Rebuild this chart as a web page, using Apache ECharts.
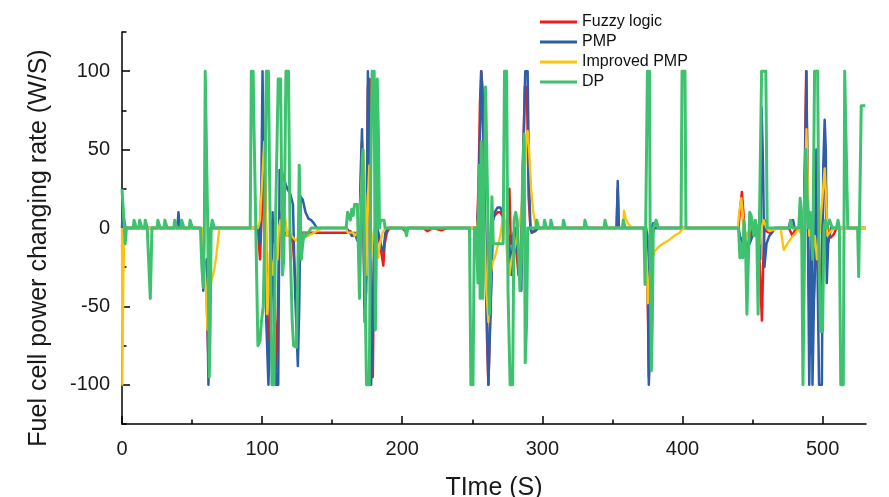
<!DOCTYPE html>
<html><head><meta charset="utf-8">
<script src="https://cdn.jsdelivr.net/npm/echarts@6/dist/echarts.min.js"></script>
<style>html,body{margin:0;padding:0;background:#fff}#c{width:889px;height:497px}</style>
</head><body><div id="c"></div>
<script>
const seriesNames = ['Fuzzy logic', 'PMP', 'Improved PMP', 'DP'];
const xMajorTicks = [0, 100, 200, 300, 400, 500];
const xMinorTicks = [50, 150, 250, 350, 450];
const yMajorTicks = [-100, -50, 0, 50, 100];
const yMinorTicks = [-125, -75, -25, 25, 75, 125];

const fuzzyPts = [[0,-12],[1,-3],[2,0],[56,0],[57,-5],[58.5,-35],[60,-30],[61.5,-80],[62.5,-40],[63.5,0],[66,0],
[97,0],[98.5,-20],[100,15],[101.5,52],[102.5,20],[103.5,-50],[104.5,-80],[105.5,-60],[106.5,-20],[107.5,5],[108.5,-40],[110,-90],[111.3,-50],[112.5,10],[114,5],[116,-3],[118,-5],[120,-4],[122,-10],[123.5,-30],[125,-60],[126.5,-10],[128,-3],[160,-3],[163,-2],[165,-5],[168,-3],[169.5,0],[170.5,30],[171.3,55],[172.2,10],[173.2,-50],[174.3,-30],[175.5,90],[176.8,95],[177.8,-90],[179,-95],[180,-10],[181,0],[183,-5],[185,-15],[186.5,-24],[187.5,-10],[189,-3],[191,0],[200,0],[202,-2],[205,0],[215,0],[218,-2],[222,0],[228,-1.5],[232,0],
[252,0],[253.5,0],[254.5,30],[255.5,80],[256.3,100],[257.3,90],[258.5,30],[259.5,-20],[260.5,-70],[261.5,-100],[262.6,-100],[263.6,-30],[264.6,5],[266,8],[268,10],[270,10],[271.5,8],[272.5,3],[274,0],[275.5,10],[276.5,25],[277.5,-10],[279,-5],[281,-10],[283,-30],[284.5,-20],[286,30],[287.5,90],[289,90],[290.2,20],[291.5,0],[292.5,-3],[295,-1],[297,0],
[353,0],[353.8,25],[354.6,0],[372,0],[374,-5],[375,-30],[376,-95],[377,-60],[378,-5],[380,0],
[440,0],[441,10],[442.4,23],[443.5,10],[444.5,-10],[445.5,-19],[447,-10],[448.5,-5],[450,0],[453,-3],[455,-20],[456.7,-59],[457.7,-20],[458.7,5],[460,-2],[462,-3],[466,0],[476,0],[477,-2],[478.5,-5],[480,-2],[482,0],[485,-3],[486.5,-5],[487.5,50],[488.3,100],[489.5,100],[490.3,-40],[491.5,-80],[493,-60],[494.5,-30],[496,-10],[497.5,-40],[499,-30],[500.5,20],[501.8,47],[502.8,10],[504,-5],[506,-6],[508,-4],[510,0],[531,0]];

const pmpPts = [[0,0],[0.5,12],[1.5,5],[2.5,0],[39.5,0],[40.3,10],[41,2],[41.6,0],[56,0],[57,-5],[58,-40],[59,-30],[60.5,-20],[61.7,-100],[62.5,-60],[63.3,0],
[97,0],[98.5,-10],[99.5,30],[100.3,100],[101.2,100],[102.2,-30],[103,-60],[104.5,-100],[105.5,-100],[106.5,-40],[107.5,10],[108.5,-60],[110,-100],[111.5,-100],[112.5,37],[114,36],[116,30],[118,25],[120,22],[122,15],[123.5,-40],[125.5,-88],[126.5,-50],[127.5,20],[129,18],[131,10],[133,6],[135,5],[137,3],[139,0],
[160,0],[162,-2],[164,-5],[166,-3],[168,-8],[169.5,-3],[170.5,40],[171.3,63],[172.2,10],[173.2,-60],[174.3,-40],[175.5,100],[176.8,100],[177.8,-100],[179,-100],[180,-10],[181,-5],[182,0],[183,-3],[185,-12],[186.5,-15],[188,-3],[190,0],
[252,0],[253.5,0],[254.5,20],[255.5,60],[256.5,100],[257.5,100],[258.5,40],[259.5,-20],[260.5,-60],[261.5,-100],[262.8,-100],[263.8,-30],[264.8,5],[266,10],[268,13],[270,13],[271.5,10],[272.5,5],[274,0],[276,-5],[278,-30],[279,-5],[280.5,0],[283,-20],[285,-40],[286.5,50],[287.8,100],[289.5,100],[290.5,30],[291.5,0],[292.5,-3],[295,-2],[297,0],
[353,0],[353.8,30],[354.6,0],[374,0],[375,-5],[376,-100],[377,-70],[378,0],[379,3],[380,0],
[440,0],[441,-5],[443,-10],[444,0],[446,-12],[448,-10],[450,-5],[452,0],[454,-3],[455.5,-20],[456.5,77],[457.5,40],[458.5,-25],[460,-10],[462,-5],[464,-3],[466,0],[476,0],[477,5],[479,5],[480,0],[483,0],[485,5],[486.5,-5],[487.5,40],[488.5,100],[489.8,100],[490.5,-100],[491.5,-100],[492.2,0],[492.8,-100],[494,-100],[494.8,0],[495.5,50],[496.3,-20],[497.5,-100],[499.5,-100],[500.5,40],[501.5,69],[502.3,50],[503,-35],[504,-10],[505,-5],[506,0],[531,0]];

const improvedPts = [[0,0],[0.2,-100],[1,-30],[1.8,0],[57,0],[58.5,-20],[60,-40],[61,-65],[62,-55],[63.5,-35],[65.5,-28],[67,-20],[68.5,-8],[69.5,0],
[97,0],[98.5,5],[100,30],[101.5,55],[102.5,20],[103.5,-55],[104.5,-40],[105.5,-15],[106.5,-15],[108,-30],[109,-10],[110,-15],[111,-20],[112,0],[113,5],[114,-5],[115,5],[116,10],[117,3],[118,-5],[119,-2],[121,-5],[124,-8],[127,-5],[130,-6],[133,-5],[137,-3],[141,-1],[144,0],
[160,0],[161,-3],[165,-3],[166,-5],[168,-3],[169.5,3],[171,30],[172.3,50],[173.5,20],[174.5,-30],[175.5,20],[176.5,40],[177.5,-20],[178.5,-10],[180,0],[181.5,-15],[182.8,-19],[184,-10],[186,-3],[188,0],
[252,0],[253.5,0],[254.5,10],[256,40],[257.5,35],[259,-10],[260,-40],[261.5,-60],[263,-30],[264.5,-22],[266,-19],[268,-12],[270,-5],[271.5,5],[272.5,10],[273.5,0],[275,-20],[276.5,-30],[278,-20],[279.5,-15],[281,-10],[283,0],[285,10],[287,30],[288.5,55],[289.5,62],[290.5,50],[292,25],[293.5,10],[295,3],[297,0],
[357.5,0],[358.3,11],[359.5,6],[361,3],[363,1],[365,0],
[373,0],[374.5,-20],[375.3,-48],[376,-40],[377,-25],[378.5,-20],[380,-15],[383,-12],[386,-10],[390,-8],[394,-5],[398,-3],[400.5,0],
[439.5,0],[440.5,10],[442,19],[443,10],[444,-5],[445,-12],[446,-3],[447,-5],[448,0],[450,5],[452,-3],[454,2],[455.5,-10],[456.5,0],[458,5],[460,0],[462,-2],[470,0],[471,0],[472.3,-14],[475,-10],[478,-6],[481,-3],[483,0],[485,-5],[486.5,-10],[487.5,30],[488.5,63],[489.5,30],[490.5,-5],[492,10],[493,-15],[494.5,-5],[496,-20],[497,-10],[498.5,5],[500,20],[501.5,38],[502.5,20],[503.5,-5],[505,-3],[507,-1],[510,0],[531,0]];

const dpPts = [[0,25],[0.6,24],[1.5,3],[2.3,-10],[3.2,0],
[8,0],[8.6,5],[9.6,5],[10.2,0],[12,0],[12.6,5],[13.6,5],[14.2,0],[16,0],[16.6,5],[17.4,5],[18,0],
[19,0],[20.2,-45],[21.4,0],
[25,0],[25.6,5],[26.6,5],[27.2,0],[30,0],[30.6,5],[31.6,5],[32.2,0],[37,0],[37.6,5],[38.6,5],[39.2,0],[42,0],[42.6,5],[43.6,5],[44.2,0],[48,0],[48.6,5],[49.6,5],[50.2,0],
[56,0],[57,-25],[58,-38],[58.7,-10],[59.4,100],[60.6,100],[61.2,0],[62.3,-95],[63,-60],[63.6,0],[64.4,5],[65.3,5],[66,0],
[91.5,0],[92.3,100],[93,96],[93.6,100],[94.3,60],[95.5,0],[97,-75],[98.5,-72],[99.5,-60],[100.8,-50],[101.5,-20],[103,100],[104.5,100],[105.5,20],[107,-100],[108.5,-100],[109.5,0],[111.5,95],[113.2,95],[114.5,-30],[115.5,-20],[117,100],[118.8,100],[120,-10],[121.5,-60],[122.5,-75],[124.5,-76],[125.5,-30],[126.5,40],[127.3,40],[128,-20],[129,-10],[130,-3],[131,-5],[133,-3],[135,0],
[160,0],[161,10],[162,8],[163,5],[164,12],[165,8],[166,15],[168,15],[169.5,-45],[170.5,-45],[171.5,45],[172,50],[173,-10],[174.5,-100],[176.5,-100],[177.5,30],[178.5,100],[180,100],[180.8,-65],[181.5,-20],[182.2,95],[183,60],[183.8,0],[184.5,5],[187,5],[187.8,0],
[202,0],[203,-5],[204,0],
[248,0],[249,-100],[250.5,-100],[251.5,0],[253,0],[254,-35],[254.8,40],[255.6,-45],[256.4,55],[257.5,-45],[258.5,20],[259.5,90],[260.5,90],[261.3,0],[262.3,-55],[263.2,-20],[264,20],[265,-10],[272,-10],[273,100],[274.5,100],[275.5,-40],[277,-100],[278.8,-100],[279.8,5],[281,10],[282,5],[283,-15],[284,-40],[285,-20],[286,40],[287,60],[287.8,-86],[288.8,-60],[289.6,0],
[295.3,0],[296,5],[296.8,5],[297.4,0],[301,0],[301.6,5],[302.4,5],[303,0],[305.5,0],[306.1,5],[306.9,5],[307.5,0],[314.5,0],[315.1,5],[315.9,5],[316.5,0],
[329.8,0],[330.4,5],[331.2,5],[331.8,0],[344.1,0],[344.7,5],[345.5,5],[346.1,0],[357.2,0],[357.8,5],[358.6,5],[359.2,0],
[372.5,0],[373.3,-36],[374.2,-36],[375,100],[376.5,100],[377,-20],[377.8,-91],[378.5,-60],[379.2,0],[380.5,0],[381.2,5],[382,5],[382.7,0],
[399,0],[399.7,100],[401.8,100],[402.5,0],
[440,0],[441,-19],[442,-10],[443,-19],[444,5],[445,-10],[446,-55],[447,-55],[448,10],[449,8],[450,0],[451,-5],[452,5],[453,0],[454,-55],[455.3,-55],[456.5,100],[458,100],[459.5,100],[460.5,0],
[476.5,0],[477.2,5],[478,5],[478.6,0],[483,0],[484,19],[485,10],[486,-100],[487.3,-100],[488,50],[489,20],[490,0],[491,10],[492,0],[493,-20],[494.3,100],[496.5,100],[497.5,-20],[498.5,-66],[500,-66],[501,0],[502,5],[503,0],[505,5],[507,0],[510,0],[511,5],[512,0],[513,-100],[514.8,-100],[515.8,100],[517.2,100],[518,0],[525,0],[525.8,-31],[526.8,-31],[527.6,78],[530.5,78]];

const colors = ['#f01c1c', '#2f5ea8', '#ffc20e', '#3ec26f'];
const widths = [2.5, 2.5, 2.3, 3];
const dataSets = [fuzzyPts, pmpPts, improvedPts, dpPts];
const FONT = 'Arial, "Liberation Sans", sans-serif';
const axisColor = '#000';

const chart = echarts.init(document.getElementById('c'), null, {renderer: 'canvas'});
chart.setOption({
  animation: false,
  backgroundColor: '#fff',
  textStyle: {fontFamily: FONT},
  grid: {left: 122, right: 23, top: 32, bottom: 73, outerBoundsMode: 'none', containLabel: false},
  legend: {
    orient: 'vertical', left: 540, top: 12, padding: 0,
    icon: 'rect', itemWidth: 37, itemHeight: 3, itemGap: 0,
    textStyle: {fontSize: 16, lineHeight: 20, color: '#111', fontFamily: FONT, padding: [0, 0, 0, 0]},
    data: seriesNames
  },
  xAxis: [
    {type: 'value', min: 0, max: 531, position: 'bottom',
     axisLine: {show: true, onZero: false, lineStyle: {color: axisColor, width: 1.5}},
     axisTick: {show: true, inside: true, length: 8, customValues: xMajorTicks, lineStyle: {color: axisColor, width: 1.5}},
     axisLabel: {show: true, customValues: xMajorTicks, fontSize: 20, color: '#1a1a1a', margin: 15, fontFamily: FONT},
     splitLine: {show: false},
     name: 'TIme (S)', nameLocation: 'middle', nameGap: 52,
     nameTextStyle: {fontSize: 25, color: '#1a1a1a', fontFamily: FONT}},
    {type: 'value', min: 0, max: 531, position: 'bottom',
     axisLine: {show: false, onZero: false},
     axisTick: {show: true, inside: true, length: 4.5, customValues: xMinorTicks, lineStyle: {color: axisColor, width: 1.5}},
     axisLabel: {show: false}, splitLine: {show: false}}
  ],
  yAxis: [
    {type: 'value', min: -125, max: 125, position: 'left',
     axisLine: {show: true, onZero: false, lineStyle: {color: axisColor, width: 1.5}},
     axisTick: {show: true, inside: true, length: 8, customValues: yMajorTicks, lineStyle: {color: axisColor, width: 1.5}},
     axisLabel: {show: true, customValues: yMajorTicks, fontSize: 20, color: '#1a1a1a', margin: 12, fontFamily: FONT},
     splitLine: {show: false},
     name: 'Fuel cell power changing rate (W/S)', nameLocation: 'middle', nameGap: 70,
     nameTextStyle: {fontSize: 25, color: '#1a1a1a', fontFamily: FONT, padding: [0, 40, 0, 0]}},
    {type: 'value', min: -125, max: 125, position: 'left',
     axisLine: {show: false, onZero: false},
     axisTick: {show: true, inside: true, length: 4.5, customValues: yMinorTicks, lineStyle: {color: axisColor, width: 1.5}},
     axisLabel: {show: false}, splitLine: {show: false}}
  ],
  series: seriesNames.map((n, i) => ({
    name: n, type: 'line', xAxisIndex: 0, yAxisIndex: 0,
    data: dataSets[i], symbol: 'none', showSymbol: false,
    lineStyle: {color: colors[i], width: widths[i], join: 'round'},
    itemStyle: {color: colors[i]},
    emphasis: {disabled: true}
  }))
});
</script>
</body></html>
